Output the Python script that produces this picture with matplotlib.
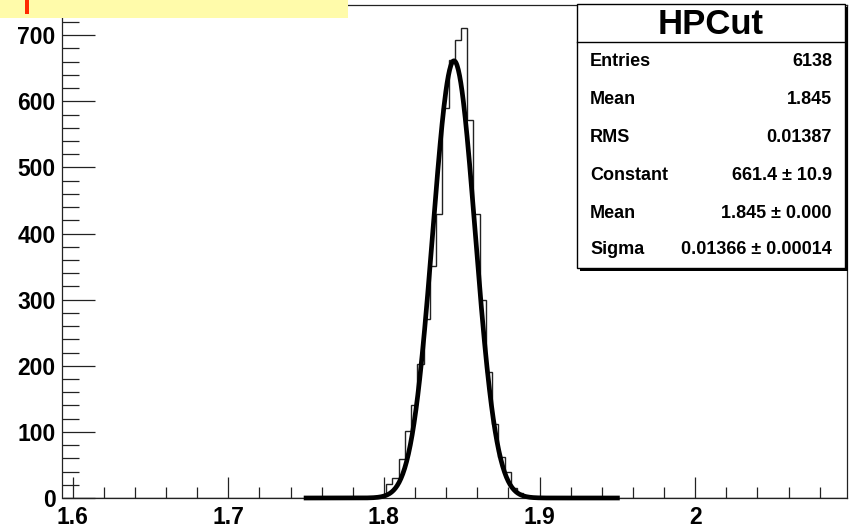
import numpy as np
import matplotlib

matplotlib.use("Agg")
import matplotlib.pyplot as plt
from matplotlib.patches import Rectangle
from matplotlib.ticker import MultipleLocator

# histogram binning: 126 bins of 0.004
bin_lo = 1.5935
bin_width = 0.004
n_bins = 126
first_filled_bin = 50
filled_counts = [1, 3, 21, 30, 59, 101, 140, 203, 271, 351, 430, 590, 662,
                 693, 711, 572, 430, 300, 190, 112, 62, 40, 15, 8, 2]

# gaussian fit
fit_const = 661.4
fit_mean = 1.845
fit_sigma = 0.01366
fit_range = (1.75, 1.95)

stats_title = "HPCut"
stat_labels = ["Entries", "Mean", "RMS", "Constant", "Mean", "Sigma"]
stat_values = ["6138", "1.845", "0.01387", "661.4 \u00b1 10.9",
               "1.845 \u00b1 0.000", "0.01366 \u00b1 0.00014"]

FONT = "Liberation Sans"
W, H = 849, 525

edges = bin_lo + bin_width * np.arange(n_bins + 1)
counts = np.zeros(n_bins)
counts[first_filled_bin:first_filled_bin + len(filled_counts)] = filled_counts

fig = plt.figure(figsize=(W / 100, H / 100), dpi=100)
fig.patch.set_facecolor("white")

# frame in pixels: x 62.5..847, y 4.5..498
ax = fig.add_axes([62.5 / W, 1 - 498 / H, (847 - 62.5) / W, (498 - 4.5) / H])
ax.stairs(counts, edges, color="#222222", linewidth=1.0)

xs = np.linspace(fit_range[0], fit_range[1], 500)
ys = fit_const * np.exp(-0.5 * ((xs - fit_mean) / fit_sigma) ** 2)
ax.plot(xs, ys, color="black", linewidth=3.4, clip_on=False, zorder=5)

ax.set_xlim(edges[0], edges[-1])
ax.set_ylim(0, 1.05 * max(filled_counts))

ax.xaxis.set_major_locator(MultipleLocator(0.1))
ax.xaxis.set_minor_locator(MultipleLocator(0.02))
ax.yaxis.set_major_locator(MultipleLocator(100))
ax.yaxis.set_minor_locator(MultipleLocator(20))
ax.xaxis.set_major_formatter(plt.FuncFormatter(lambda v, p: f"{v:g}"))

ax.tick_params(axis="both", which="both", direction="in", top=False, right=False,
               width=0.9, color="#222222")
ax.tick_params(axis="x", which="major", length=15, pad=6)
ax.tick_params(axis="x", which="minor", length=8)
ax.tick_params(axis="y", which="major", length=24, pad=5)
ax.tick_params(axis="y", which="minor", length=12)
for lab in ax.get_xticklabels() + ax.get_yticklabels():
    lab.set_fontfamily(FONT)
    lab.set_fontweight("bold")
    lab.set_fontsize(16.5)
for sp in ax.spines.values():
    sp.set_linewidth(0.9)
    sp.set_color("#222222")

# overlay in pixel coordinates for the stats box and the cut-off header
ov = fig.add_axes([0, 0, 1, 1])
ov.set_xlim(0, W)
ov.set_ylim(H, 0)
ov.axis("off")
ov.patch.set_alpha(0)

ov.add_patch(Rectangle((0, 0), 348, 18, facecolor="#fffbaa", edgecolor="none"))
ov.add_patch(Rectangle((25, 0), 4, 14, facecolor="#ff2a00", edgecolor="none"))

bx0, by0, bx1, by1 = 577, 4, 845, 268
ov.add_patch(Rectangle((bx0 + 3, by0 + 3), bx1 - bx0, by1 - by0, facecolor="black",
                       edgecolor="none"))
ov.add_patch(Rectangle((bx0, by0), bx1 - bx0, by1 - by0, facecolor="white",
                       edgecolor="black", linewidth=1.0))
ov.plot([bx0, bx1], [42, 42], color="black", linewidth=1.0)
ov.text((bx0 + bx1) / 2, 25, stats_title, ha="center", va="center",
        fontsize=25, fontweight="bold", family=FONT)

row_y = [62, 100, 138, 176, 214, 249]
for y, lab, val in zip(row_y, stat_labels, stat_values):
    ov.text(590, y, lab, ha="left", va="center", fontsize=13, fontweight="bold",
            family=FONT)
    ov.text(832, y, val, ha="right", va="center", fontsize=13, fontweight="bold",
            family=FONT)

fig.savefig("out.png", dpi=100)
